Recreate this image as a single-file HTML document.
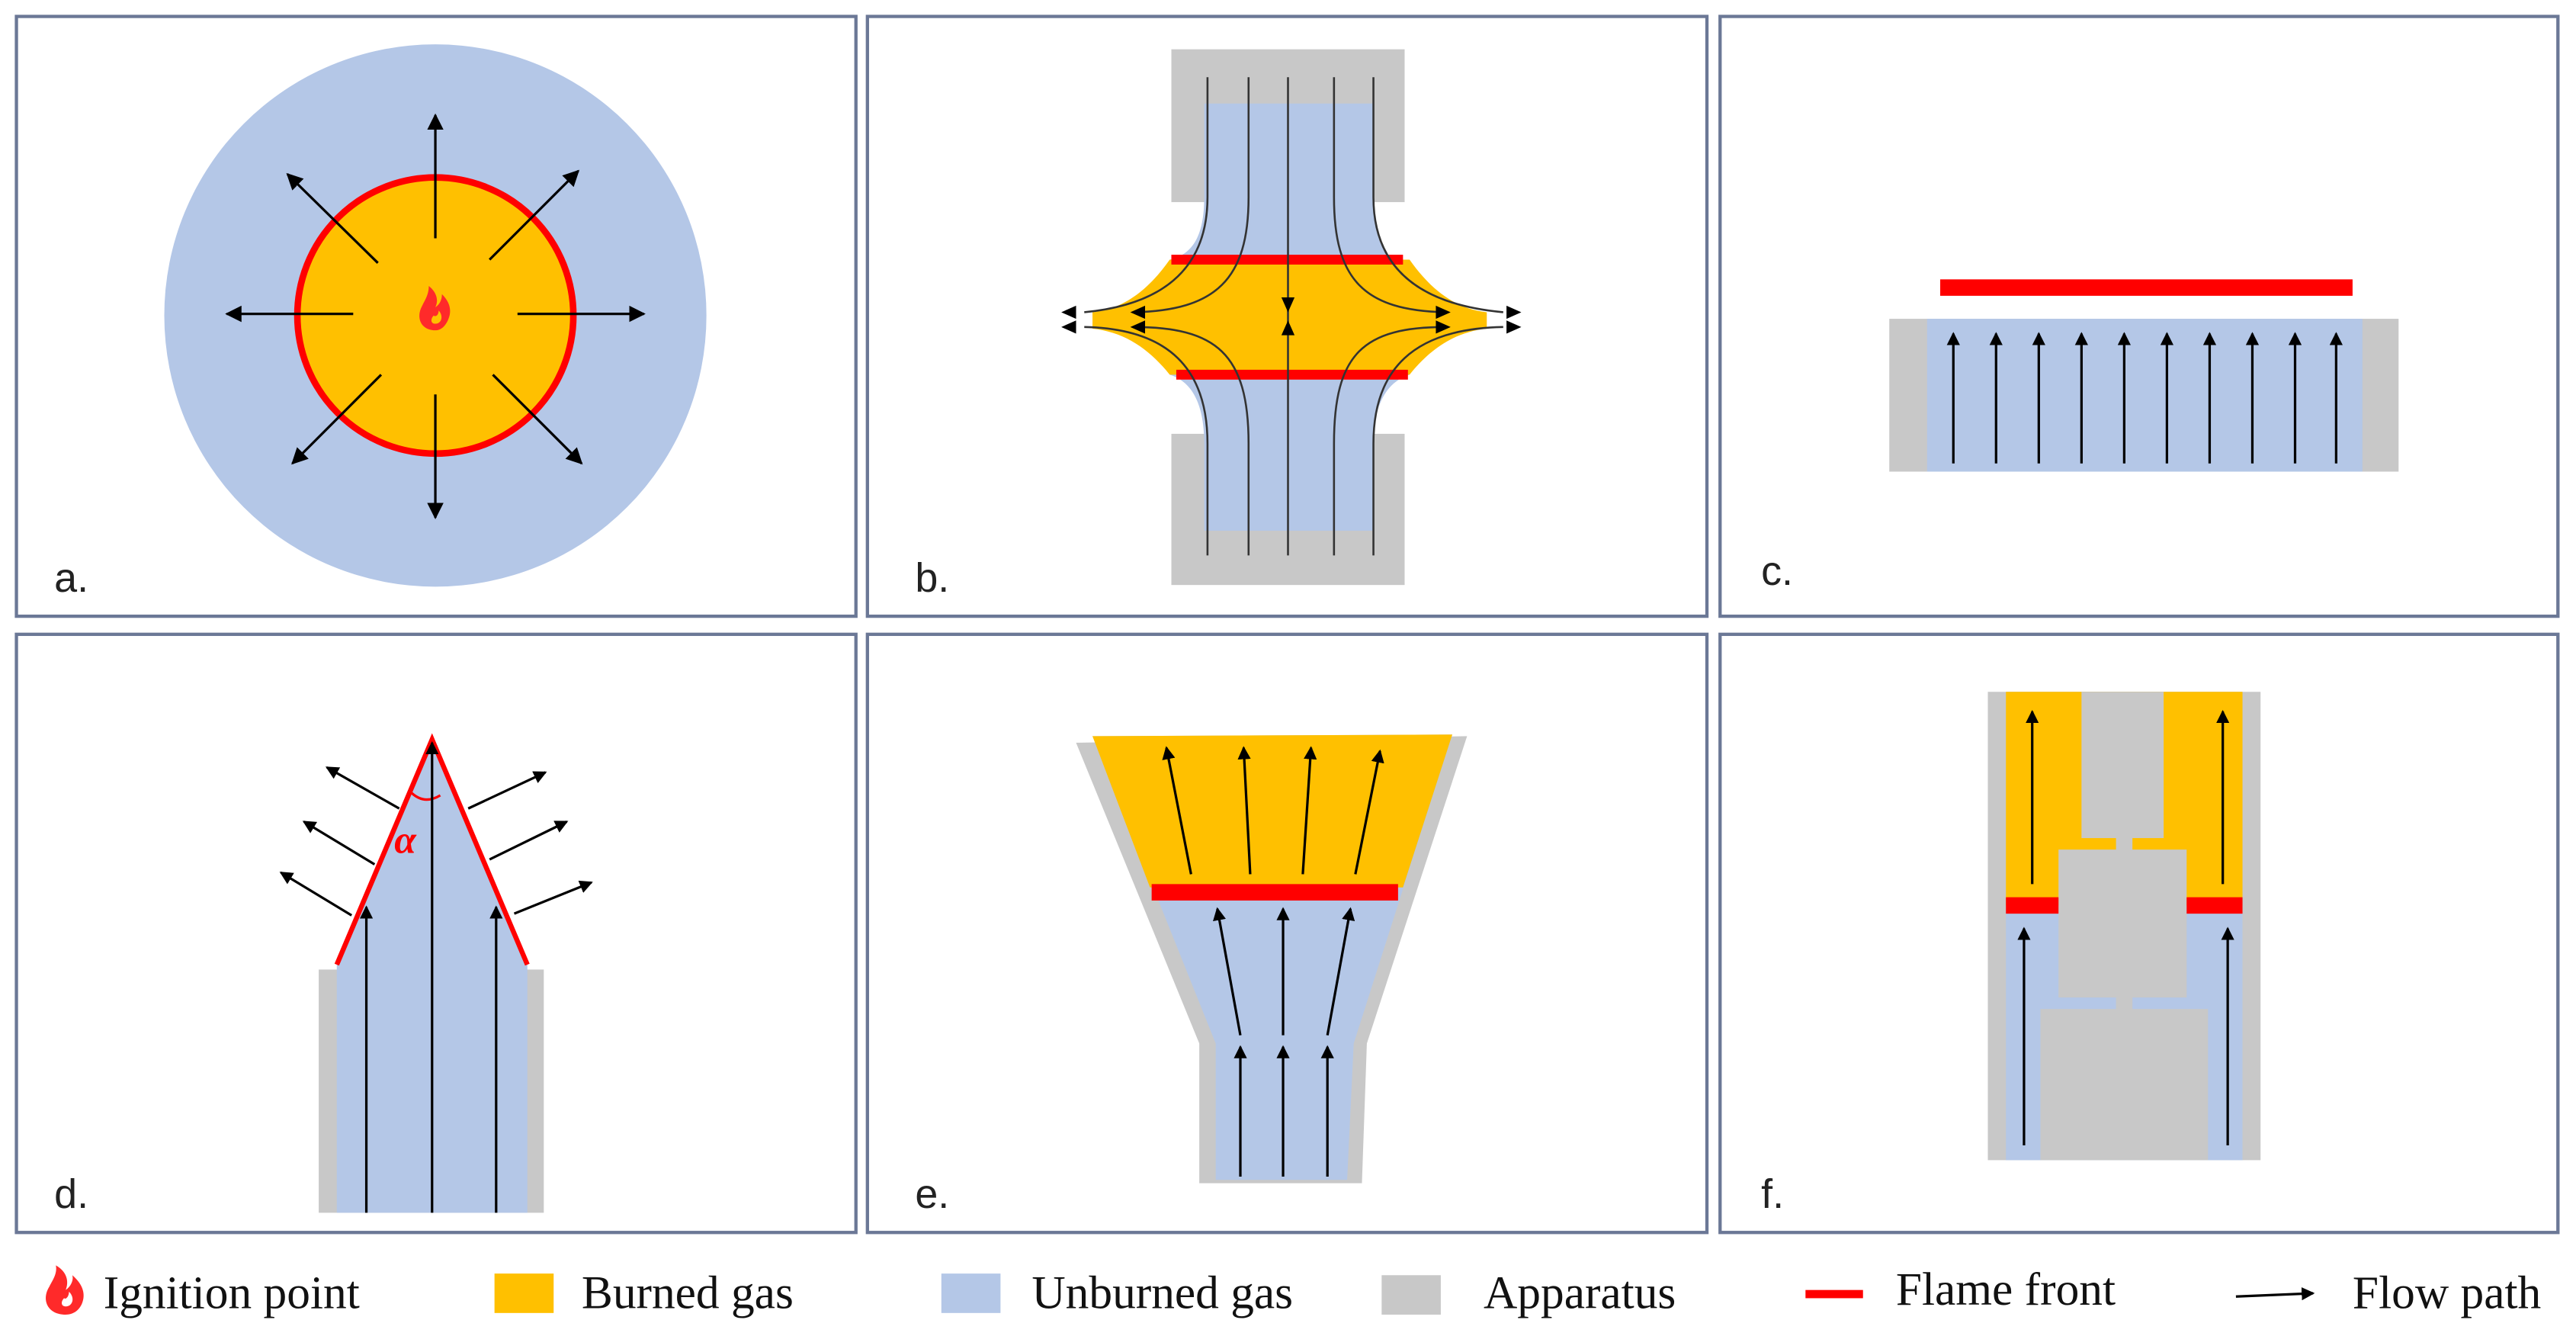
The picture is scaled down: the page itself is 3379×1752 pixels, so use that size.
<!DOCTYPE html>
<html><head><meta charset="utf-8"><style>
html,body{margin:0;padding:0;background:#fff;}
svg{display:block;}
</style></head><body>
<svg width="3379" height="1752" viewBox="0 0 1568 813" xmlns="http://www.w3.org/2000/svg">
<defs>
<marker id="ah" markerWidth="8" markerHeight="8" refX="7" refY="4" orient="auto" markerUnits="userSpaceOnUse">
<path d="M0,0 L8,4 L0,8 z" fill="#000"/>
</marker>
<marker id="ahs" markerWidth="10" markerHeight="10" refX="9" refY="5" orient="auto" markerUnits="userSpaceOnUse">
<path d="M0,0 L10,5 L0,10 z" fill="#000"/>
</marker>
</defs>
<rect width="1568" height="813" fill="#fff"/>
<g fill="none" stroke="#6b7896" stroke-width="2">
<rect x="10" y="10" width="511" height="365"/>
<rect x="528" y="10" width="511" height="365"/>
<rect x="1047" y="10" width="510" height="365"/>
<rect x="10" y="386" width="511" height="364"/>
<rect x="528" y="386" width="511" height="364"/>
<rect x="1047" y="386" width="510" height="364"/>
</g>

<!-- a -->
<circle cx="265" cy="192" r="165" fill="#b4c7e7"/>
<circle cx="265" cy="192" r="84" fill="#ffc000" stroke="#ff0000" stroke-width="4"/>
<g stroke="#000" stroke-width="1.5" marker-end="url(#ahs)">
<line x1="265" y1="145" x2="265" y2="70"/>
<line x1="265" y1="240" x2="265" y2="315"/>
<line x1="215" y1="191" x2="138" y2="191"/>
<line x1="315" y1="191" x2="392" y2="191"/>
<line x1="230" y1="160" x2="175" y2="106"/>
<line x1="298" y1="158" x2="352" y2="104"/>
<line x1="232" y1="228" x2="178" y2="282"/>
<line x1="300" y1="228" x2="354" y2="282"/>
</g>
<path d="M265,201 c-9,0 -12,-8 -8,-15 c2,-4 4,-7 4,-12 c5,4 6,9 4,13 c3,-2 4,-5 4,-8 c5,5 6,10 4,15 c-2,5 -5,7 -8,7 z M265,197 c4,0 5,-5 2,-8 c0,3 -2,4 -3,3 c-2,2 -2,5 1,5z" fill="#ff2a2a" fill-rule="evenodd"/>
<text x="33" y="360" font-family="Liberation Sans, sans-serif" font-size="25" fill="#222">a.</text>

<!-- b -->
<rect x="713" y="30" width="142" height="93" fill="#c8c8c8"/>
<rect x="713" y="264" width="142" height="92" fill="#c8c8c8"/>
<path d="M733,63 L836,63 L836,120 C836,150 845,160 858,162 L858,158 L858,228 C845,232 836,245 836,270 L836,323 L733,323 L733,270 C733,245 725,232 712,228 L712,158 C725,155 733,145 733,120 Z" fill="#b4c7e7"/>
<path d="M712,158 L858,158 C870,175 885,188 905,190 L905,200 C885,202 870,213 858,228 L712,228 C700,213 685,202 665,200 L665,190 C685,188 700,175 712,158 Z" fill="#ffc000"/>
<rect x="713" y="155" width="141" height="6" fill="#ff0000"/>
<rect x="716" y="225" width="141" height="6" fill="#ff0000"/>
<g stroke="#333" stroke-width="1.2" fill="none">
<path d="M735,47 L735,120 C735,160 712,185 660,190"/>
<path d="M760,47 L760,120 C760,170 740,189 690,190"/>
<path d="M760,338 L760,270 C760,215 740,199 690,199"/>
<path d="M735,338 L735,270 C735,225 712,200 660,199"/>
<path d="M812,47 L812,120 C812,170 830,189 880,190"/>
<path d="M836,47 L836,120 C836,160 860,185 915,190"/>
<path d="M812,338 L812,270 C812,215 830,199 880,199"/>
<path d="M836,338 L836,270 C836,225 860,200 915,199"/>
<line x1="784" y1="47" x2="784" y2="338"/>
</g>
<g fill="#000">
<path d="M646,190 l9,-4 v8z M646,199 l9,-4 v8z M688,190 l9,-4 v8z M688,199 l9,-4 v8z"/>
<path d="M926,190 l-9,-4 v8z M926,199 l-9,-4 v8z M883,190 l-9,-4 v8z M883,199 l-9,-4 v8z"/>
<path d="M784,190 l-4,-9 h8z M784,195 l-4,9 h8z"/>
</g>
<text x="557" y="360" font-family="Liberation Sans, sans-serif" font-size="25" fill="#222">b.</text>

<!-- c -->
<rect x="1181" y="170" width="251" height="10" fill="#ff0000"/>
<rect x="1150" y="194" width="310" height="93" fill="#c8c8c8"/>
<rect x="1173" y="194" width="265" height="93" fill="#b4c7e7"/>
<g stroke="#000" stroke-width="1.5" marker-end="url(#ah)">
<line x1="1189" y1="282" x2="1189" y2="203"/>
<line x1="1215" y1="282" x2="1215" y2="203"/>
<line x1="1241" y1="282" x2="1241" y2="203"/>
<line x1="1267" y1="282" x2="1267" y2="203"/>
<line x1="1293" y1="282" x2="1293" y2="203"/>
<line x1="1319" y1="282" x2="1319" y2="203"/>
<line x1="1345" y1="282" x2="1345" y2="203"/>
<line x1="1371" y1="282" x2="1371" y2="203"/>
<line x1="1397" y1="282" x2="1397" y2="203"/>
<line x1="1422" y1="282" x2="1422" y2="203"/>
</g>
<text x="1072" y="356" font-family="Liberation Sans, sans-serif" font-size="25" fill="#222">c.</text>

<!-- d -->
<rect x="194" y="590" width="137" height="148" fill="#c8c8c8"/>
<path d="M205,738 L205,587 L263,450 L321,587 L321,738 Z" fill="#b4c7e7"/>
<path d="M205,587 L263,450 L321,587" fill="none" stroke="#ff0000" stroke-width="3"/>
<path d="M250,482 Q258,490 268,484" fill="none" stroke="#ff0000" stroke-width="1.5"/>
<text x="240" y="519" font-family="Liberation Serif, serif" font-style="italic" font-weight="bold" font-size="24" fill="#ff0000">α</text>
<g stroke="#000" stroke-width="1.5" marker-end="url(#ah)">
<line x1="263" y1="738" x2="263" y2="452"/>
<line x1="223" y1="738" x2="223" y2="552"/>
<line x1="302" y1="738" x2="302" y2="552"/>
<line x1="243" y1="492" x2="199" y2="467"/>
<line x1="228" y1="526" x2="185" y2="500"/>
<line x1="214" y1="557" x2="171" y2="531"/>
<line x1="285" y1="492" x2="332" y2="470"/>
<line x1="298" y1="523" x2="345" y2="500"/>
<line x1="313" y1="556" x2="360" y2="537"/>
</g>
<text x="33" y="735" font-family="Liberation Sans, sans-serif" font-size="25" fill="#222">d.</text>

<!-- e -->
<path d="M655,452 L893,448 L832,635 L829,720 L730,720 L730,635 Z" fill="#c8c8c8"/>
<path d="M665,448 L884,447 L824,635 L820,718 L740,718 L740,635 Z" fill="#b4c7e7"/>
<path d="M665,448 L884,447 L854,540 L700,540 Z" fill="#ffc000"/>
<rect x="701" y="538" width="150" height="10" fill="#ff0000"/>
<g stroke="#000" stroke-width="1.5" marker-end="url(#ah)">
<line x1="725" y1="532" x2="710" y2="455"/>
<line x1="761" y1="532" x2="757" y2="455"/>
<line x1="793" y1="532" x2="798" y2="455"/>
<line x1="825" y1="532" x2="840" y2="457"/>
<line x1="755" y1="630" x2="741" y2="553"/>
<line x1="781" y1="630" x2="781" y2="553"/>
<line x1="808" y1="630" x2="822" y2="553"/>
<line x1="755" y1="716" x2="755" y2="637"/>
<line x1="781" y1="716" x2="781" y2="637"/>
<line x1="808" y1="716" x2="808" y2="637"/>
</g>
<text x="557" y="735" font-family="Liberation Sans, sans-serif" font-size="25" fill="#222">e.</text>

<!-- f -->
<rect x="1210" y="421" width="166" height="285" fill="#c8c8c8"/>
<rect x="1221" y="421" width="144" height="285" fill="#b4c7e7"/>
<rect x="1221" y="421" width="144" height="130" fill="#ffc000"/>
<rect x="1267" y="421" width="50" height="89" fill="#c8c8c8"/>
<rect x="1288" y="508" width="10" height="10" fill="#c8c8c8"/>
<rect x="1253" y="517" width="78" height="90" fill="#c8c8c8"/>
<rect x="1288" y="605" width="10" height="10" fill="#c8c8c8"/>
<rect x="1242" y="614" width="102" height="92" fill="#c8c8c8"/>
<rect x="1221" y="546" width="32" height="10" fill="#ff0000"/>
<rect x="1331" y="546" width="34" height="10" fill="#ff0000"/>
<g stroke="#000" stroke-width="1.5" marker-end="url(#ah)">
<line x1="1237" y1="538" x2="1237" y2="433"/>
<line x1="1353" y1="538" x2="1353" y2="433"/>
<line x1="1232" y1="697" x2="1232" y2="565"/>
<line x1="1356" y1="697" x2="1356" y2="565"/>
</g>
<text x="1072" y="735" font-family="Liberation Sans, sans-serif" font-size="25" fill="#222">f.</text>

<!-- legend -->
<path d="M40,800 c-11,0 -15,-9 -10,-17 c2,-4 5,-8 4,-13 c7,4 8,10 6,15 c3,-2 5,-6 4,-9 c7,6 8,12 6,17 c-2,5 -6,7 -10,7 z M40,795 c4,0 6,-5 2,-9 c0,3 -2,5 -3,4 c-2,2 -2,5 1,5z" fill="#ff2a2a" fill-rule="evenodd"/>
<g font-family="Liberation Serif, serif" font-size="28.5" fill="#111">
<text x="63" y="796">Ignition point</text>
<text x="354" y="796">Burned gas</text>
<text x="628" y="796">Unburned gas</text>
<text x="903" y="796">Apparatus</text>
<text x="1154" y="794">Flame front</text>
<text x="1432" y="796">Flow path</text>
</g>
<rect x="301" y="775" width="36" height="24" fill="#ffc000"/>
<rect x="573" y="775" width="36" height="24" fill="#b4c7e7"/>
<rect x="841" y="776" width="36" height="24" fill="#c8c8c8"/>
<rect x="1099" y="785" width="35" height="5" fill="#ff0000"/>
<line x1="1361" y1="789" x2="1408" y2="787" stroke="#000" stroke-width="1.5" marker-end="url(#ah)"/>
</svg>
</body></html>
